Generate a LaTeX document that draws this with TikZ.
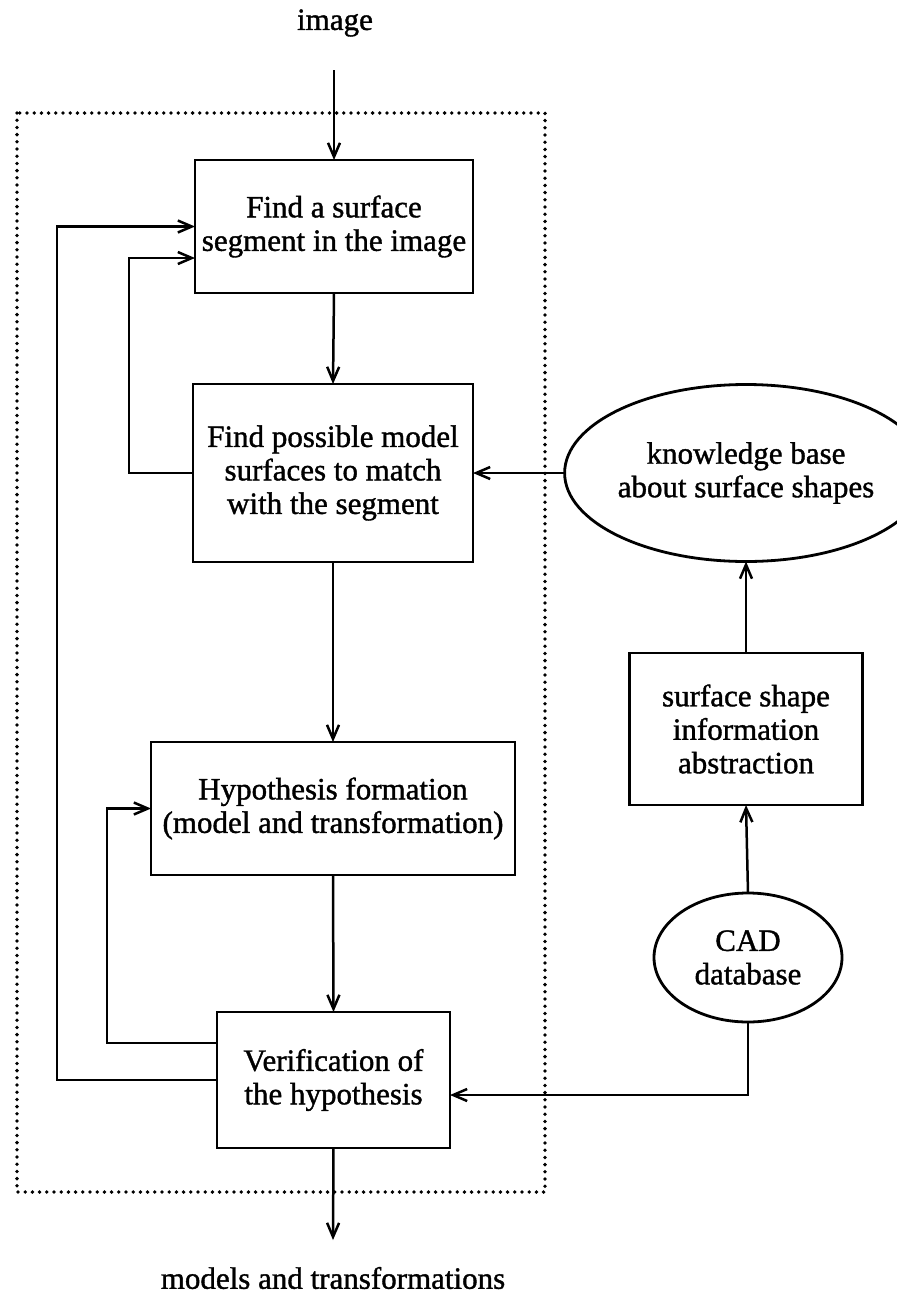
\documentclass[tikz,border=0pt]{standalone}
\usepackage{fontspec}
\setmainfont[FakeBold=1.2]{Liberation Serif}
\usetikzlibrary{arrows.meta,shapes.geometric}

\begin{document}
\begin{tikzpicture}[x=1pt,y=-1pt,
  every node/.style={font=\fontsize{31}{33.5}\selectfont, align=center, inner sep=0pt, outer sep=0pt},
  procbox/.style={draw, line width=2.8pt, rectangle},
  store/.style={draw, line width=2.8pt, ellipse},
  arr/.style={line width=2.5pt, -{Straight Barb[length=14pt,width=12pt,line width=2.5pt]}},
  frame/.style={line width=3.8pt, line cap=round, dash pattern=on 0pt off 7.2pt}
]
\useasboundingbox (0,0) rectangle (897,1296);

% dotted frame around the matching loop
\draw[frame] (17,113) rectangle (545,1192);

% processing steps
\node[procbox, minimum width=278pt, minimum height=133pt] (b1) at (334,226.5)
  {Find a surface\\segment in the image};
\node[procbox, minimum width=280pt, minimum height=178pt] (b2) at (333,473)
  {Find possible model\\surfaces to match\\with the segment};
\node[procbox, minimum width=364pt, minimum height=133pt] (hyp) at (333,808.5)
  {Hypothesis formation\\(model and transformation)};
\node[procbox, minimum width=233pt, minimum height=136pt] (ver) at (333.5,1080)
  {Verification of\\the hypothesis};

% model side
\node[store, minimum width=306pt, minimum height=177pt] (kb) at (746,473)
  {knowledge base\\about surface shapes};
\node[procbox, minimum width=233pt, minimum height=152pt] (abs) at (746,729)
  {surface shape\\information\\abstraction};
\node[store, minimum width=188pt, minimum height=129pt] (cad) at (748,957.5)
  {CAD\\database};

% input and output labels
\node (img) at (335,23) {image};
\node (res) at (333,1278) {models and transformations};
\coordinate (in) at (334,70);
\coordinate (out) at (333,1240);

% main flow
\draw[arr] (in) -- (b1.north);
\draw[arr] (b1.south) -- (b2.north);
\draw[arr] (b2.south) -- (hyp.north);
\draw[arr] (hyp.south) -- (ver.north);
\draw[arr] (ver.south) -- (out);

% feedback loops
\draw[arr] (b2.west) -- ++(-64,0) |- ([yshift=-31.5pt]b1.west);
\draw[arr] (ver.west) -- ++(-160,0) |- (b1.west);
\draw[arr] ([yshift=37pt]ver.west) -- ++(-110,0) |- (hyp.west);

% model information paths
\draw[arr] (kb.west) -- (b2.east);
\draw[arr] (abs.north) -- (kb.south);
\draw[arr] (cad.north) -- (abs.south);
\draw[arr] (cad.south) |- ([yshift=-15pt]ver.east);
\end{tikzpicture}
\end{document}
